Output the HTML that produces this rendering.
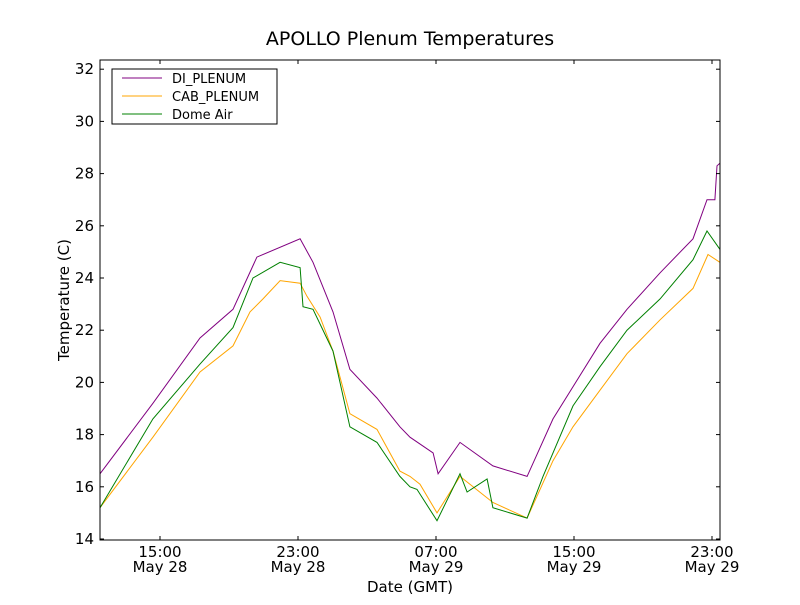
<!DOCTYPE html>
<html><head><meta charset="utf-8"><style>
body{margin:0;background:#fff;font-family:"Liberation Sans","DejaVu Sans",sans-serif}
svg text{font-family:"DejaVu Sans","Liberation Sans",sans-serif}
</style></head><body>
<svg id="chart" width="800" height="600" xmlns="http://www.w3.org/2000/svg">
<rect width="800" height="600" fill="#fff"/>
<text x="410" y="45" font-size="19" text-anchor="middle">APOLLO Plenum Temperatures</text>
<text x="410" y="592" font-size="15" text-anchor="middle">Date (GMT)</text>
<text x="0" y="0" font-size="15" text-anchor="middle" transform="translate(69,300) rotate(-90)">Temperature (C)</text>
<g id="series"></g>
<g id="axes"></g>
<rect x="100" y="60" width="620" height="480" fill="none" stroke="#000" stroke-width="1"/>
<g>
<rect x="112" y="69" width="165" height="55" fill="#fff" stroke="#000"/>
<line x1="122" y1="78" x2="162" y2="78" stroke="#800080"/>
<text x="172" y="83" font-size="13">DI_PLENUM</text>
<line x1="122" y1="96" x2="162" y2="96" stroke="#ffa500"/>
<text x="172" y="101" font-size="13">CAB_PLENUM</text>
<line x1="122" y1="114" x2="162" y2="114" stroke="#008000"/>
<text x="172" y="119" font-size="13">Dome Air</text>
</g>
</svg>
<script>
// hours relative to 15:00 May 28
const diTimes=[-3.48,-0.41,2.32,4.23,5.62,8.12,8.87,10.03,11.01,12.58,13.91,14.49,15.83,16.12,17.39,19.30,21.28,22.78,25.51,27.07,28.99,30.90,31.71,32.17,32.29,32.46];
const diValues=[16.5,19.2,21.7,22.8,24.8,25.5,24.6,22.7,20.5,19.4,18.3,17.9,17.3,16.5,17.7,16.8,16.4,18.6,21.5,22.8,24.2,25.5,27.0,27.0,28.3,28.4];
const cabTimes=[-3.48,-0.41,2.32,4.23,5.22,5.97,6.96,8.12,8.52,9.28,10.03,11.01,12.58,13.91,14.49,15.07,16.06,17.39,19.30,21.28,22.78,23.94,25.51,27.07,28.99,30.90,31.77,32.46];
const cabValues=[15.2,17.9,20.4,21.4,22.7,23.2,23.9,23.8,23.3,22.5,21.2,18.8,18.2,16.6,16.4,16.1,15.0,16.4,15.4,14.8,17.0,18.3,19.7,21.1,22.4,23.6,24.9,24.6];
const domeTimes=[-3.48,-0.41,2.32,4.23,5.39,6.96,8.12,8.29,8.87,10.03,11.01,12.58,13.91,14.49,14.90,16.06,17.39,17.80,18.96,19.30,21.28,22.20,23.94,25.51,27.07,28.99,30.90,31.71,32.46];
const domeValues=[15.2,18.6,20.7,22.1,24.0,24.6,24.4,22.9,22.8,21.2,18.3,17.7,16.4,16.0,15.9,14.7,16.5,15.8,16.3,15.2,14.8,16.4,19.1,20.6,22.0,23.2,24.7,25.8,25.1];
const yTicks=[14,16,18,20,22,24,26,28,30,32];
const xTickHours=[0,8,16,24,32];
const xTickTimes=["15:00","23:00","07:00","15:00","23:00"];
const xTickDates=["May 28","May 28","May 29","May 29","May 29"];

const NS="http://www.w3.org/2000/svg";
const X=h=>160+h*17.25;
const Y=v=>539-(v-14)*26.1;
const sg=document.getElementById('series'), ax=document.getElementById('axes');
function line(t,v,color,name){
  const p=document.createElementNS(NS,'polyline');
  p.setAttribute('points',t.map((h,i)=>X(h).toFixed(1)+','+Y(v[i]).toFixed(1)).join(' '));
  p.setAttribute('fill','none');p.setAttribute('stroke',color);p.setAttribute('stroke-width','1');
  
  
  sg.appendChild(p);
}
line(diTimes,diValues,'#800080','series-di-plenum');
line(cabTimes,cabValues,'#ffa500','series-cab-plenum');
line(domeTimes,domeValues,'#008000','series-dome-air');
yTicks.forEach(v=>{
  const y=Y(v);
  [[100,104],[716,720]].forEach(([a,b])=>{
    const l=document.createElementNS(NS,'line');
    l.setAttribute('x1',a);l.setAttribute('x2',b);l.setAttribute('y1',y);l.setAttribute('y2',y);l.setAttribute('stroke','#000');
    
    
    ax.appendChild(l);
  });
  const t=document.createElementNS(NS,'text');
  t.setAttribute('x',94);t.setAttribute('y',y+5);t.setAttribute('font-size','15');t.setAttribute('text-anchor','end');
  t.textContent=v;
  
  
  ax.appendChild(t);
});
xTickHours.forEach((h,i)=>{
  const x=X(h);
  [[536,540],[60,64]].forEach(([a,b])=>{
    const l=document.createElementNS(NS,'line');
    l.setAttribute('x1',x);l.setAttribute('x2',x);l.setAttribute('y1',a);l.setAttribute('y2',b);l.setAttribute('stroke','#000');
    
    
    ax.appendChild(l);
  });
  [[xTickTimes[i],557],[xTickDates[i],572]].forEach(([s,y])=>{
    const t=document.createElementNS(NS,'text');
    t.setAttribute('x',x);t.setAttribute('y',y);t.setAttribute('font-size','15');t.setAttribute('text-anchor','middle');
    t.textContent=s;
    
    
    ax.appendChild(t);
  });
});
</script>
</body></html>
